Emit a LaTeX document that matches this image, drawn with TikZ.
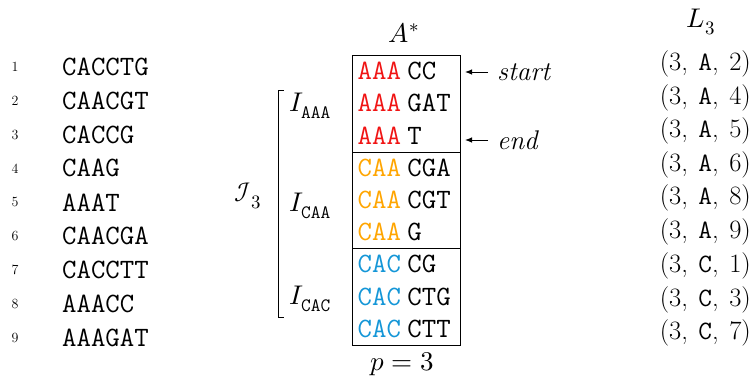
\documentclass[tikz,border=0pt]{standalone}
\usepackage{fontspec}
\usepackage{unicode-math}
\setmathfont{Latin Modern Math}
\usetikzlibrary{arrows.meta}
\definecolor{cred}{RGB}{240,20,20}
\definecolor{corange}{RGB}{255,165,0}
\definecolor{cblue}{RGB}{20,150,215}
\tikzset{
  idx/.style={font=\fontsize{14}{16}\selectfont, inner sep=0pt},
  seq/.style={font=\fontsize{28}{32}\selectfont\ttfamily, anchor=west, inner sep=0pt},
  row/.style={font=\fontsize{28}{32}\selectfont\ttfamily, anchor=west, inner sep=0pt},
  grp/.style={draw, line width=0.9pt, minimum width=108pt, minimum height=96.7pt, anchor=north west, inner sep=0pt},
  lab/.style={font=\fontsize{27}{31}\selectfont, inner sep=0pt},
  tup/.style={font=\fontsize{26.5}{30}\selectfont, anchor=east, inner sep=0pt},
  ptr/.style={-{Latex[length=7pt,width=5.5pt]}, line width=0.9pt},
}
\newcommand{\tp}[2]{(3,\hspace{10.5pt}\texttt{#1},\hspace{10.5pt}#2)}
\begin{document}
\begin{tikzpicture}[x=1pt,y=-1pt]
\useasboundingbox (0,0) rectangle (752,378);
% left list
\foreach \i/\s in {1/CACCTG,2/CAACGT,3/CACCG,4/CAAG,5/AAAT,6/CAACGA,7/CACCTT,8/AAACC,9/AAAGAT}{
  \node[idx] (n\i) at (15,{66.7+33.9*(\i-1)}) {\i};
  \node[seq] (s\i) at (62,{66.7+33.9*(\i-1)}) {\s};
}
% groups
\node[grp] (g1) at (352,55) {};
\node[grp] (g2) at (352,151.7) {};
\node[grp] (g3) at (352,248.3) {};
% rows
\foreach \i/\c/\p/\r in {1/cred/AAA/CC,2/cred/AAA/GAT,3/cred/AAA/T,4/corange/CAA/CGA,5/corange/CAA/CGT,6/corange/CAA/G,7/cblue/CAC/CG,8/cblue/CAC/CTG,9/cblue/CAC/CTT}{
  \node[row] (r\i) at (357.5,{55+32.2*(\i-0.5)}) {\textcolor{\c}{\p}\hspace{6.5pt}\r};
}
\node[lab] (astar) at (404,33) {$A^*$};
\node[lab] (p) at (402,364) {$p=3$};
% pointers
\node[lab, anchor=west] (start) at (497,72) {$\mathit{start}$};
\node[lab, anchor=west] (end) at (497,140) {$\mathit{end}$};
\coordinate (st) at (465,72);
\coordinate (et) at (465,140);
\draw[ptr] ([xshift=-9pt]start.west) -- (st);
\draw[ptr] ([xshift=-9pt]end.west) -- (et);
% interval labels
\node[lab, anchor=west] (ia) at (289,106) {$I_{\mathtt{AAA}}$};
\node[lab, anchor=west] (ic) at (289,206) {$I_{\mathtt{CAA}}$};
\node[lab, anchor=west] (id) at (289,299) {$I_{\mathtt{CAC}}$};
\node[lab] (cal) at (248,196) {$\mathcal{I}_3$};
\coordinate (b1) at (283.5,90);
\coordinate (b2) at (283.5,317);
\draw[line width=0.9pt] (b1) -- ++(-5.5,0) |- (b2);
% L3
\node[lab] (l3) at (701,22) {$L_3$};
\foreach \i/\a/\b/\y in {1/A/2/64,2/A/4/97.5,3/A/5/131,4/A/6/164.5,5/A/8/198,6/A/9/231.5,7/C/1/266,8/C/3/299.5,9/C/7/333}{
  \node[tup] (t\i) at (751,\y) {\tp{\a}{\b}};
}
\end{tikzpicture}
\end{document}
